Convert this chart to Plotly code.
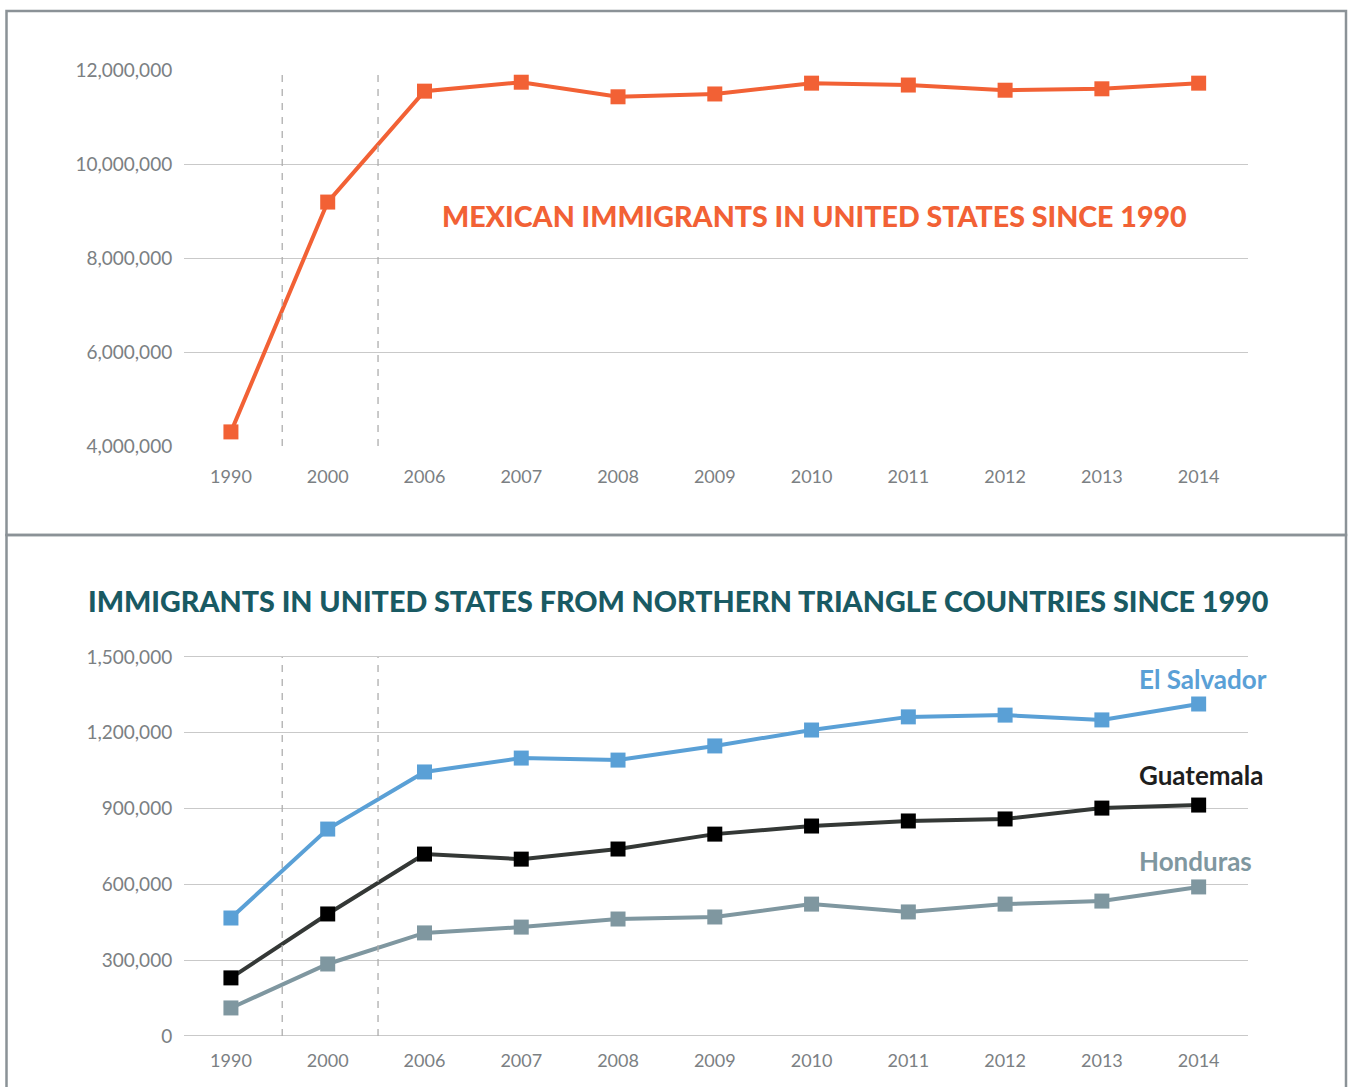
import plotly.graph_objects as go

years = ["1990", "2000", "2006", "2007", "2008", "2009", "2010", "2011", "2012", "2013", "2014"]
mexico = [4300000, 9190000, 11550000, 11740000, 11430000, 11490000, 11720000, 11680000, 11570000, 11600000, 11720000]
el_salvador = [467000, 819000, 1045000, 1100000, 1092000, 1148000, 1211000, 1263000, 1270000, 1251000, 1314000]
guatemala = [230000, 483000, 720000, 700000, 740000, 799000, 831000, 851000, 859000, 902000, 914000]
honduras = [111000, 285000, 408000, 431000, 463000, 471000, 522000, 491000, 522000, 534000, 590000]

top_ticks = [4000000, 6000000, 8000000, 10000000, 12000000]
bot_ticks = [0, 300000, 600000, 900000, 1200000, 1500000]

W, H = 1348, 1087
FONT = "Lato"
GRAY = "#7b8083"
ORANGE = "#f26135"
BLUE = "#5aa0d6"
DARK = "#343836"
HOND = "#7f97a0"
TEAL = "#195a63"

xpos = list(range(len(years)))

def py(y):
    return 1 - y / H

fig = go.Figure()

fig.add_trace(go.Scatter(x=xpos, y=mexico, mode="lines+markers", xaxis="x", yaxis="y",
                         line=dict(color=ORANGE, width=4),
                         marker=dict(symbol="square", size=15, color=ORANGE),
                         cliponaxis=False, showlegend=False))
fig.add_trace(go.Scatter(x=xpos, y=el_salvador, mode="lines+markers", xaxis="x2", yaxis="y2",
                         line=dict(color=BLUE, width=4),
                         marker=dict(symbol="square", size=15, color=BLUE),
                         cliponaxis=False, showlegend=False))
fig.add_trace(go.Scatter(x=xpos, y=guatemala, mode="lines+markers", xaxis="x2", yaxis="y2",
                         line=dict(color=DARK, width=4),
                         marker=dict(symbol="square", size=15, color="#000000"),
                         cliponaxis=False, showlegend=False))
fig.add_trace(go.Scatter(x=xpos, y=honduras, mode="lines+markers", xaxis="x2", yaxis="y2",
                         line=dict(color=HOND, width=4),
                         marker=dict(symbol="square", size=15, color=HOND),
                         cliponaxis=False, showlegend=False))

xdom = [184 / W, 1248 / W]
xrange_ = [-0.485, 10.51]

common_x = dict(range=xrange_, domain=xdom, tickvals=xpos, ticktext=years, showgrid=False,
                zeroline=False, showline=False, ticks="outside", tickcolor="rgba(0,0,0,0)",
                automargin=False,
                tickfont=dict(family=FONT, size=18, color=GRAY))
common_y = dict(showgrid=True, gridcolor="#c9c9c9", gridwidth=1.3, zeroline=False, showline=False,
                tickformat=",", ticks="outside", ticklen=7, tickcolor="rgba(0,0,0,0)",
                automargin=False,
                tickfont=dict(family=FONT, size=19, color=GRAY))

# slightly padded ranges so the edge gridlines are drawn
top_pad = 20000
bot_pad = 4000
top_px = 376 / 8000000
bot_px = 379 / 1500000

fig.update_layout(
    template="none",
    width=W, height=H,
    margin=dict(l=0, r=0, t=0, b=0, pad=0, autoexpand=False),
    paper_bgcolor="white", plot_bgcolor="white",
    showlegend=False,
    xaxis=dict(common_x, anchor="y", ticklen=13),
    yaxis=dict(common_y, anchor="x",
               domain=[py(446 + top_pad * top_px), py(70 - top_pad * top_px)],
               range=[4000000 - top_pad, 12000000 + top_pad], tickvals=top_ticks),
    xaxis2=dict(common_x, anchor="y2", ticklen=7),
    yaxis2=dict(common_y, anchor="x2",
                domain=[py(1036 + bot_pad * bot_px), py(657 - bot_pad * bot_px)],
                range=[0 - bot_pad, 1500000 + bot_pad], tickvals=bot_ticks),
)

shapes = []
# dashed separators between non-uniform periods
for xv in [0.53, 1.52]:
    shapes.append(dict(type="line", xref="x", yref="y", x0=xv, x1=xv,
                       y0=top_ticks[0], y1=top_ticks[-1],
                       line=dict(color="#aeaeae", width=1.3, dash="7px,7px")))
    shapes.append(dict(type="line", xref="x2", yref="y2", x0=xv, x1=xv,
                       y0=bot_ticks[0], y1=bot_ticks[-1],
                       line=dict(color="#aeaeae", width=1.3, dash="7px,7px")))
# panel borders
BORDER = "#8b9297"
shapes.append(dict(type="rect", xref="paper", yref="paper", x0=6.5 / W, x1=1346 / W,
                   y0=py(535), y1=py(11), line=dict(color=BORDER, width=2.5), layer="below"))
shapes.append(dict(type="rect", xref="paper", yref="paper", x0=6.5 / W, x1=1346 / W,
                   y0=py(1100), y1=py(535), line=dict(color=BORDER, width=2.5), layer="below"))
fig.update_layout(shapes=shapes)

annotations = [
    dict(text="MEXICAN IMMIGRANTS IN UNITED STATES SINCE 1990", xref="paper", yref="paper",
         x=1189 / W, y=py(216), xanchor="right", yanchor="middle", showarrow=False,
         font=dict(family=FONT, size=28.6, color=ORANGE, weight=900)),
    dict(text="IMMIGRANTS IN UNITED STATES FROM NORTHERN TRIANGLE COUNTRIES SINCE 1990",
         xref="paper", yref="paper", x=86 / W, y=py(601), xanchor="left", yanchor="middle",
         showarrow=False, font=dict(family=FONT, size=28.7, color=TEAL, weight=900)),
    dict(text="El Salvador", xref="paper", yref="paper", x=1137 / W, y=py(679),
         xanchor="left", yanchor="middle", showarrow=False,
         font=dict(family=FONT, size=26, color=BLUE, weight=700)),
    dict(text="Guatemala", xref="paper", yref="paper", x=1137 / W, y=py(775),
         xanchor="left", yanchor="middle", showarrow=False,
         font=dict(family=FONT, size=26, color="#1e1e1e", weight=700)),
    dict(text="Honduras", xref="paper", yref="paper", x=1137 / W, y=py(861),
         xanchor="left", yanchor="middle", showarrow=False,
         font=dict(family=FONT, size=26, color=HOND, weight=700)),
]
fig.update_layout(annotations=annotations)

fig.write_html("out.html", config={"displayModeBar": False},
               post_script="document.body.style.margin='0';document.body.style.overflow='hidden';")
